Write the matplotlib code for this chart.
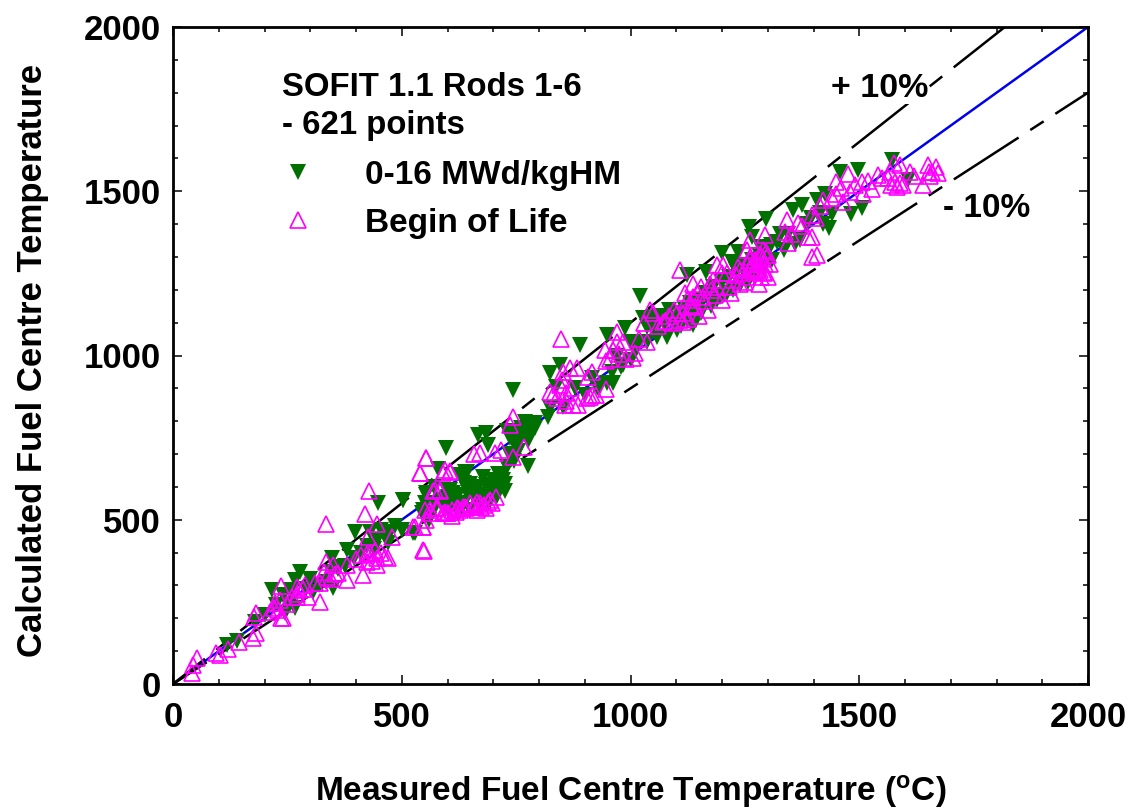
import matplotlib
matplotlib.use('Agg')
import matplotlib.pyplot as plt
from matplotlib.ticker import MultipleLocator

plt.rcParams['font.family'] = ['Liberation Sans', 'DejaVu Sans']
plt.rcParams['font.weight'] = 'bold'
plt.rcParams['mathtext.fontset'] = 'custom'
plt.rcParams['mathtext.bf'] = 'Liberation Sans:bold'
plt.rcParams['mathtext.rm'] = 'Liberation Sans:bold'
plt.rcParams['lines.scale_dashes'] = False

# measured, calculated
green_x = [119, 597, 580, 638, 502, 449, 398, 474, 431, 380, 347, 278, 267, 216, 259, 267, 245, 445,
           529, 554, 551, 598, 613, 635, 591, 620, 358, 307, 350, 467, 889, 948, 988, 846, 824, 744,
           824, 820, 769, 791, 685, 667, 736, 689, 776, 726, 715, 642, 627, 678, 605, 554, 591, 620,
           664, 693, 722, 642, 503, 547, 525, 948, 962, 926, 984, 878, 853, 838, 1028, 1035, 1057,
           1079, 1101, 1137, 1050, 1021, 791, 744, 1572, 1498, 1459, 1607, 1505, 1481, 1441, 1434,
           1297, 1260, 1374, 1356, 1407, 1425, 1199, 1235, 1123, 1166, 1144, 1123, 1210, 1195, 1257,
           1283, 1327, 1308, 1370, 1221, 1265, 1152, 1130, 1174, 1000, 1021, 1060, 700, 710, 650,
           600, 570, 760, 750, 730,
           565, 575, 585, 600, 610, 615, 625, 635, 645, 650, 660, 665, 670, 680, 685, 690, 695, 700,
           705, 712, 720, 725, 730, 735, 745, 750, 755, 760, 770, 775, 785, 745,
           1045, 1055, 1065, 1075, 1085, 1095, 1105, 1110, 1120, 1130, 1140, 1150, 1155, 1165, 1175,
           1180, 1190, 1200, 1205, 1215, 1225, 1230, 1240, 1245, 1255, 1265, 1270, 1280, 1290, 1300,
           1310, 1320, 1335, 1345, 1360, 1385, 1395, 1415, 1420,
           140, 180, 200, 225, 240, 255, 290, 300, 320, 335, 345, 360, 375, 395, 410, 425, 440, 455,
           470, 485, 500, 545, 560, 600,
           900, 915, 930, 960, 970, 980, 1000, 1010, 1035]
green_y = [119, 717, 656, 646, 560, 550, 464, 464, 464, 408, 383, 342, 317, 286, 286, 230, 215, 438,
           459, 580, 550, 590, 580, 611, 540, 540, 357, 281, 291, 443, 1032, 1062, 1083, 971, 946, 895,
           839, 814, 799, 778, 763, 758, 748, 728, 665, 586, 631, 646, 636, 631, 591, 575, 560, 570,
           601, 606, 621, 591, 560, 530, 459, 915, 915, 905, 971, 900, 844, 905, 1113, 1088, 1057,
           1057, 1078, 1093, 1118, 1181, 794, 753, 1595, 1564, 1559, 1534, 1448, 1432, 1432, 1387,
           1417, 1392, 1458, 1442, 1473, 1493, 1311, 1316, 1245, 1255, 1108, 1108, 1189, 1179, 1224,
           1331, 1371, 1336, 1351, 1285, 1361, 1158, 1138, 1189, 985, 1040, 1120, 590, 640, 610,
           570, 600, 780, 700, 770,
           520, 545, 560, 530, 545, 575, 520, 550, 575, 530, 560, 590, 545, 575, 605, 550, 590, 620,
           565, 600, 640, 610, 660, 700, 680, 730, 710, 750, 760, 740, 770, 770,
           1100, 1080, 1120, 1095, 1140, 1110, 1130, 1090, 1140, 1160, 1125, 1170, 1130, 1190, 1150,
           1210, 1170, 1225, 1185, 1240, 1200, 1260, 1215, 1275, 1235, 1290, 1250, 1305, 1265, 1330,
           1290, 1345, 1320, 1370, 1340, 1400, 1420, 1435, 1400,
           130, 190, 210, 240, 270, 245, 290, 320, 300, 310, 340, 350, 360, 385, 400, 420, 410, 470,
           430, 480, 470, 520, 500, 580,
           880, 930, 900, 950, 1000, 965, 1040, 1020, 1040]

pink_x = [334, 428, 552, 540, 420, 549, 594, 605, 573, 584, 445, 427, 334, 350, 380, 478, 463, 412,
          431, 441, 445, 416, 380, 361, 336, 321, 310, 289, 270, 270, 296, 321, 235, 234, 223, 237,
          212, 181, 176, 181, 174, 145, 121, 95, 103, 52, 44, 41, 547, 525, 554, 576, 598, 620, 638,
          847, 970, 944, 962, 984, 1019, 1035, 1010, 1006, 946, 1042, 915, 908, 882, 868, 853, 846,
          824, 860, 915, 911, 946, 857, 886, 744, 736, 767, 718, 704, 671, 658, 744, 553, 540, 591,
          605, 569, 583, 529, 547, 547, 562, 580, 602, 623, 649, 674, 693, 664, 634, 1071, 1101,
          1093, 1134, 1115, 1651, 1668, 1640, 1653, 1612, 1589, 1542, 1567, 1563, 1582, 1578, 1527,
          1505, 1509, 1476, 1450, 1450, 1480, 1465, 1421, 1396, 1367, 1341, 1337, 1345, 1396, 1388,
          1396, 1408, 1294, 1261, 1254, 1297, 1286, 1305, 1301, 1281, 1239, 1225, 1203, 1188, 1235,
          1268, 1283, 1199, 1174, 1155, 1137, 1137, 1159, 1123, 1108, 1108, 1133, 1177, 1261, 1290,
          1276, 1294, 1254, 1660, 1672, 1595, 1575, 1272, 1282, 1292, 1262,
          595, 610, 618, 628, 640, 655, 660, 672, 680, 688, 697, 705, 610, 550, 565, 575, 590, 665, 685,
          1115, 1125, 1140, 1150, 1160, 1170, 1185, 1190, 1200, 1215, 1220, 1230, 1245, 1255, 1262,
          1268, 1272, 1278, 1285, 1290, 1295, 1300, 1250, 1240, 1210, 1180, 1145, 1120, 1095, 1085,
          1075, 1060, 1050, 1030,
          220, 230, 250, 270, 275, 285, 330, 345, 355, 400, 425, 435, 425, 445, 455, 470, 260, 240,
          840, 870, 860, 875, 850, 925, 905, 970, 975, 990, 955, 830,
          1350, 1375, 1405, 1415, 1440, 1460, 1490, 1520, 1550, 1570, 1590, 1620, 1655]
pink_y = [487, 588, 687, 643, 517, 406, 651, 649, 590, 590, 487, 448, 370, 362, 362, 446, 386, 393,
          398, 408, 362, 332, 316, 337, 327, 306, 306, 301, 296, 266, 266, 251, 298, 256, 246, 200,
          220, 215, 205, 154, 139, 129, 108, 93, 88, 78, 58, 32, 477, 479, 499, 535, 520, 535, 540,
          1049, 1073, 1017, 1017, 1042, 1049, 1042, 1007, 991, 984, 1139, 951, 936, 961, 961, 951, 910,
          890, 885, 880, 875, 897, 849, 849, 814, 788, 722, 712, 704, 702, 700, 692, 687, 643, 643,
          646, 586, 586, 479, 479, 408, 530, 535, 520, 535, 550, 540, 560, 555, 540, 1103, 1128,
          1098, 1149, 1103, 1579, 1574, 1519, 1559, 1559, 1579, 1549, 1559, 1539, 1513, 1529, 1508,
          1529, 1493, 1554, 1529, 1493, 1498, 1468, 1473, 1427, 1402, 1412, 1376, 1341, 1361, 1361,
          1300, 1305, 1366, 1351, 1321, 1316, 1300, 1280, 1240, 1219, 1219, 1229, 1275, 1275, 1270,
          1280, 1260, 1250, 1219, 1209, 1219, 1179, 1179, 1168, 1108, 1260, 1153, 1199, 1300, 1321,
          1280, 1280, 1280, 1560, 1556, 1520, 1585, 1260, 1310, 1250, 1290,
          525, 530, 525, 530, 535, 540, 545, 550, 545, 555, 550, 570, 510, 530, 520, 535, 520, 530, 535,
          1130, 1110, 1150, 1120, 1165, 1140, 1185, 1210, 1170, 1210, 1190, 1245, 1250, 1240, 1265,
          1255, 1290, 1265, 1240, 1295, 1255, 1305, 1225, 1260, 1250, 1230, 1190, 1190, 1140, 1120,
          1105, 1090, 1130, 1100,
          230, 225, 245, 275, 285, 290, 340, 320, 335, 380, 370, 375, 395, 385, 400, 385, 265, 200,
          870, 900, 860, 850, 925, 880, 870, 1040, 1005, 990, 990, 880,
          1370, 1395, 1420, 1455, 1480, 1510, 1520, 1530, 1540, 1520, 1525, 1545, 1545]

line_x = [0, 2000]
ticks = [0, 500, 1000, 1500, 2000]

fig = plt.figure(figsize=(11.33, 8.11), dpi=100)
ax = fig.add_axes([173/1133, 1-684/811, 915/1133, 657/811])

ax.plot(line_x, line_x, color='#0000ee', lw=1.8, zorder=1)
ax.plot(line_x, [v*1.1 for v in line_x], color='black', lw=1.8, zorder=1,
        linestyle=(31.7, (61, 10.5, 11.5, 10.5)), dash_capstyle='butt')
ax.plot(line_x, [v*0.9 for v in line_x], color='black', lw=1.8, zorder=1,
        linestyle=(26.6, (55.5, 10, 11.5, 10)), dash_capstyle='butt')

ax.plot(green_x, green_y, 'v', color='#007000', ms=11.5, mew=0, zorder=2, label='0-16 MWd/kgHM')
ax.plot(pink_x, pink_y, '^', mfc='none', mec='#ff00ff', ms=11, mew=1.2, zorder=3, label='Begin of Life')

ax.set_xlim(0, 2000)
ax.set_ylim(0, 2000)
ax.set_xticks(ticks)
ax.set_yticks(ticks)
ax.xaxis.set_minor_locator(MultipleLocator(100))
ax.yaxis.set_minor_locator(MultipleLocator(100))
ax.tick_params(which='major', direction='in', length=6.5, width=1.1, top=True, right=True,
               labelsize=25)
ax.tick_params(which='minor', direction='in', length=3.8, width=1.1, top=True, right=True)
ax.tick_params(axis='x', which='major', pad=12)
ax.tick_params(axis='y', which='major', pad=8.5)
for s in ax.spines.values():
    s.set_linewidth(2)

ax.set_xlabel(r'Measured Fuel Centre Temperature ($\mathbf{^{o}}$C)', fontsize=24, fontweight='bold', labelpad=28.5)
ax.set_ylabel('Calculated Fuel Centre Temperature', fontsize=25, fontweight='bold', labelpad=25, y=0.493)

ax.text(238, 1790, 'SOFIT 1.1 Rods 1-6', fontsize=23.7, fontweight='bold')
ax.text(238, 1675, '- 621 points', fontsize=23.7, fontweight='bold')
ax.text(1438, 1787, '+ 10%', fontsize=24.5, fontweight='bold',
        bbox=dict(fc='white', ec='none', pad=0), zorder=1.5)
ax.text(1683, 1422, '- 10%', fontsize=24, fontweight='bold')

ax.legend(loc='upper left', bbox_to_anchor=(0.0767, 0.843), frameon=False, fontsize=24,
          handletextpad=1.25, labelspacing=0.5, handlelength=1.5, numpoints=1)

fig.savefig('out.png', dpi=100)
